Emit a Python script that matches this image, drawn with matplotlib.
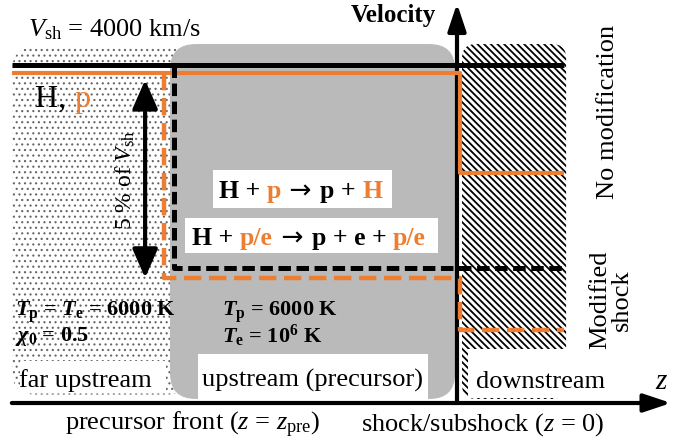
import matplotlib
matplotlib.use("Agg")
import matplotlib.pyplot as plt
import matplotlib.transforms as mtransforms
from matplotlib.patches import FancyBboxPatch, Rectangle

plt.rcParams['font.family'] = ['Liberation Serif', 'DejaVu Serif']
plt.rcParams['mathtext.fontset'] = 'custom'
plt.rcParams['mathtext.rm'] = 'Liberation Serif'
plt.rcParams['mathtext.it'] = 'Liberation Serif:italic'
plt.rcParams['mathtext.bf'] = 'Liberation Serif:bold'
plt.rcParams['mathtext.bfit'] = 'Liberation Serif:italic:bold'
plt.rcParams['lines.scale_dashes'] = False

ORANGE = '#ED7D31'

# schematic velocity profiles (z: distance, shock at 0, precursor front at -1;
# v: velocity in units of V_sh)
z_h_nomod = [-1.56, 0.37]
v_h_nomod = [1.0, 1.0]
z_p_nomod = [-1.56, 0.007, 0.007, 0.37]
v_p_nomod = [0.976, 0.976, 0.680, 0.680]
z_h_mod = [-0.993, -0.993, 0.37]
v_h_mod = [1.0, 0.399, 0.399]
z_p_mod = [-1.028, -1.028, 0.007, 0.007, 0.37]
v_p_mod = [0.976, 0.370, 0.370, 0.216, 0.216]

fig = plt.figure(figsize=(6.88, 4.41), dpi=100)
ax = fig.add_axes([0, 0, 1, 1])
ax.set_xlim(-1.6014, 0.8042)
ax.set_ylim(-0.1124, 1.1923)
ax.axis('off')

asp = 286 / 338  # keeps rounded corners circular on screen

# regions
plt.rcParams['hatch.linewidth'] = 0.8
far = FancyBboxPatch((-1.559, 0.025), 0.62, 1.028, boxstyle='round,pad=0,rounding_size=0.08',
                     mutation_aspect=asp, facecolor='white', edgecolor='#666666', lw=0,
                     hatch='...', zorder=1)
ax.add_patch(far)
pre = FancyBboxPatch((-1.007, 0.012), 0.997, 1.05, boxstyle='round,pad=0,rounding_size=0.09',
                     mutation_aspect=asp, facecolor='#bababa', edgecolor='none', lw=0, zorder=2)
ax.add_patch(pre)
plt.rcParams['hatch.linewidth'] = 1.3
down = FancyBboxPatch((0.014, 0.012), 0.364, 1.05, boxstyle='round,pad=0,rounding_size=0.05',
                      mutation_aspect=asp, facecolor='white', edgecolor='black', lw=0,
                      hatch='\\\\\\\\\\', zorder=2)
ax.add_patch(down)

# white label boxes
for (x0, y0, w, h) in [(-0.857, 0.577, 0.626, 0.112), (-0.955, 0.444, 0.885, 0.103),
                       (-1.531, 0.035, 0.51, 0.09), (-0.909, 0.009, 0.804, 0.136),
                       (0.035, 0.015, 0.51, 0.145)]:
    ax.add_patch(Rectangle((x0, y0), w, h, facecolor='white', edgecolor='none', zorder=3))

# velocity profiles
ax.plot(z_h_nomod, v_h_nomod, color='black', lw=3.6, solid_capstyle='butt', zorder=5)
ax.plot(z_p_nomod, v_p_nomod, color=ORANGE, lw=3.0, solid_capstyle='butt', zorder=5)
ax.plot(z_h_mod, v_h_mod, color='black', lw=3.6, dashes=(9, 4), zorder=5)
ax.plot(z_p_mod, v_p_mod, color=ORANGE, lw=3.2, dashes=(12.5, 5.5), zorder=5)

# axes
arr = dict(arrowstyle='-|>,head_length=0.75,head_width=0.25', color='black', lw=3,
           shrinkA=0, shrinkB=0, mutation_scale=22)
ax.annotate('', xy=(0.745, 0.0), xytext=(-1.56, 0.0), arrowprops=arr, zorder=6)
ax.annotate('', xy=(-0.0035, 1.182), xytext=(-0.0035, 0.0), arrowprops=arr, zorder=4)

# 5 % double arrow
ax.annotate('', xy=(-1.094, 0.956), xytext=(-1.094, 0.370),
            arrowprops=dict(arrowstyle='<|-|>,head_length=0.8,head_width=0.35', color='black',
                            lw=3, shrinkA=0, shrinkB=0, mutation_scale=22), zorder=6)


def multicolor(x, y, parts, **kw):
    renderer = fig.canvas.get_renderer()
    t = ax.transData
    for part in parts:
        s, c = part[0], part[1]
        opts = dict(kw)
        if len(part) > 2:
            opts.update(part[2])
        txt = ax.text(x, y, s, color=c, transform=t, va='baseline', ha='left', zorder=7, **opts)
        w = txt.get_window_extent(renderer).width
        t = mtransforms.offset_copy(txt.get_transform(), x=w, units='dots', fig=fig)


fs = 19
arr_part = (' → ', 'black', dict(family=['DejaVu Sans'], fontweight='normal', fontsize=19))
multicolor(-1.479, 0.876, [('H, ', 'black'), ('p', ORANGE)], fontsize=23)
multicolor(-0.836, 0.607, [('H + ', 'black'), ('p', ORANGE), arr_part,
                           ('p + ', 'black'), ('H', ORANGE)],
           fontsize=18.5, fontweight='bold')
multicolor(-0.930, 0.467, [('H + ', 'black'), ('p/e', ORANGE), arr_part,
                           ('p + e + ', 'black'), ('p/e', ORANGE)], fontsize=18.5, fontweight='bold')

ax.text(-1.503, 1.104, r'$V_{\rm sh}$ = 4000 km/s', fontsize=fs, va='center', ha='left', zorder=7)
ax.text(-0.227, 1.145, 'Velocity', fontsize=18, fontweight='bold', ha='center', va='center', zorder=7)
ax.text(-1.164, 0.660, r'5 % of $V_{\rm sh}$', fontsize=17, rotation=90, ha='center', va='center', zorder=7)
ax.text(-1.549, 0.269, r'$\mathbfit{T}_\mathbf{p}$ = $\mathbfit{T}_\mathbf{e}$ = 6000 K', fontsize=16,
        fontweight='bold', ha='left', va='center', zorder=7)
ax.text(-1.549, 0.198, r'$\mathbfit{\chi}_\mathbf{0}$ = 0.5', fontsize=16,
        fontweight='bold', ha='left', va='center', zorder=7)
ax.text(-0.825, 0.269, r'$\mathbfit{T}_\mathbf{p}$ = 6000 K', fontsize=16,
        fontweight='bold', ha='left', va='center', zorder=7)
ax.text(-0.825, 0.198, r'$\mathbfit{T}_\mathbf{e}$ = 10$^\mathbf{6}$ K', fontsize=16,
        fontweight='bold', ha='left', va='center', zorder=7)

ax.text(-1.304, 0.068, 'far upstream', fontsize=fs, ha='center', va='center', zorder=7)
ax.text(-0.507, 0.068, 'upstream (precursor)', fontsize=fs, ha='center', va='center', zorder=7)
ax.text(0.287, 0.062, 'downstream', fontsize=fs, ha='center', va='center', zorder=7)
ax.text(0.713, 0.062, r'$z$', fontsize=21, ha='center', va='center', zorder=7)
ax.text(-0.927, -0.065, r'precursor front ($z$ = $z_{\rm pre}$)', fontsize=fs,
        ha='center', va='center', zorder=7)
ax.text(0.087, -0.065, r'shock/subshock ($z$ = 0)', fontsize=fs, ha='center', va='center', zorder=7)
ax.text(0.524, 0.861, 'No modification', fontsize=fs, rotation=90, ha='center', va='center', zorder=7)
ax.text(0.535, 0.305, 'Modified\nshock', fontsize=fs, rotation=90, ha='center', va='center',
        linespacing=0.95, zorder=7)

fig.savefig('out.png', dpi=100)
